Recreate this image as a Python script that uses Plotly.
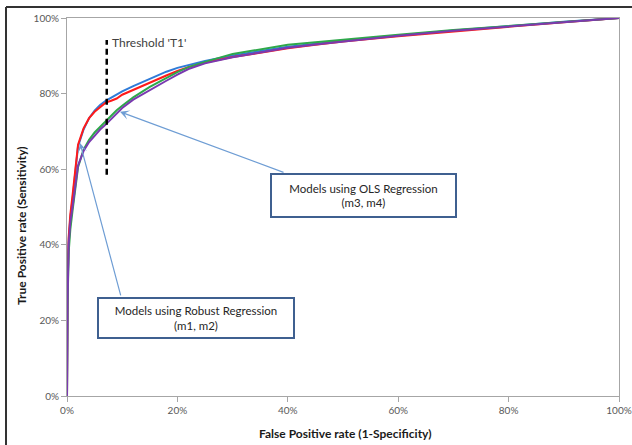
import plotly.graph_objects as go

# False positive rate (1 - specificity) grid
fpr = [0, 0.001, 0.003, 0.006, 0.01, 0.015, 0.02, 0.03, 0.04, 0.05, 0.06, 0.07,
       0.08, 0.09, 0.10, 0.12, 0.15, 0.18, 0.20, 0.22, 0.25, 0.30, 0.35, 0.40,
       0.45, 0.50, 0.60, 0.70, 0.80, 0.90, 1.0]

# True positive rates (sensitivity) for each model
tpr_m1 = [0, 0.28, 0.42, 0.48, 0.53, 0.60, 0.665, 0.708, 0.735, 0.752, 0.765, 0.776,
          0.781, 0.787, 0.797, 0.810, 0.830, 0.848, 0.860, 0.870, 0.882, 0.897, 0.908,
          0.920, 0.929, 0.938, 0.952, 0.965, 0.977, 0.989, 1.0]
tpr_m2 = [0, 0.27, 0.41, 0.47, 0.52, 0.59, 0.660, 0.705, 0.735, 0.755, 0.770, 0.781,
          0.790, 0.797, 0.806, 0.820, 0.840, 0.858, 0.868, 0.876, 0.886, 0.901, 0.912,
          0.924, 0.932, 0.940, 0.954, 0.967, 0.979, 0.990, 1.0]
tpr_m3 = [0, 0.24, 0.38, 0.44, 0.49, 0.55, 0.605, 0.652, 0.678, 0.697, 0.712, 0.726,
          0.742, 0.756, 0.768, 0.790, 0.818, 0.842, 0.857, 0.870, 0.884, 0.905, 0.917,
          0.929, 0.936, 0.943, 0.956, 0.968, 0.979, 0.990, 1.0]
tpr_m4 = [0, 0.25, 0.40, 0.46, 0.50, 0.555, 0.610, 0.648, 0.672, 0.688, 0.705, 0.718,
          0.733, 0.748, 0.762, 0.784, 0.810, 0.834, 0.850, 0.865, 0.880, 0.896, 0.909,
          0.921, 0.930, 0.938, 0.953, 0.966, 0.978, 0.989, 1.0]

series_names = ["m2", "m1", "m3", "m4"]
series_vals = [tpr_m2, tpr_m1, tpr_m3, tpr_m4]
series_colors = ["#2F7BD8", "#FF1A1A", "#2EA84A", "#7A3AB0"]

tick_vals = [0, 0.2, 0.4, 0.6, 0.8, 1.0]
tick_text = ["0%", "20%", "40%", "60%", "80%", "100%"]

threshold_x = 0.072
threshold_y = [0.585, 0.942]

FONT = "Lato"

fig = go.Figure()
for name, vals, col in zip(series_names, series_vals, series_colors):
    fig.add_trace(go.Scatter(x=fpr, y=vals, mode="lines", name=name,
                             line=dict(color=col, width=2), showlegend=False))

# Threshold dashed line
fig.add_trace(go.Scatter(x=[threshold_x, threshold_x], y=threshold_y, mode="lines",
                         line=dict(color="black", width=2.5, dash="6px,4px"),
                         showlegend=False))

axis_common = dict(range=[0, 1], tickvals=tick_vals, ticktext=tick_text,
                   showgrid=False, zeroline=False, showline=True, mirror=True,
                   linecolor="#A6A6A6", linewidth=1, ticks="outside", ticklen=5,
                   tickcolor="#A6A6A6", automargin=False, ticklabeloverflow="allow",
                   tickfont=dict(family=FONT, size=10, color="#595959"))

fig.update_layout(
    width=632, height=445,
    margin=dict(l=67, r=13, t=18, b=49, autoexpand=False),
    paper_bgcolor="white", plot_bgcolor="white",
    xaxis=dict(**axis_common),
    yaxis=dict(**axis_common),
    font=dict(family=FONT),
)

arrow_col = "#6E9DD4"
box_col = "#3F6090"

annotations = [
    # axis titles
    dict(text="<b>False Positive rate (1-Specificity)</b>", xref="paper", yref="paper",
         x=0.505, y=-0.1005, xanchor="center", yanchor="middle", showarrow=False,
         font=dict(family=FONT, size=12, color="#1a1a1a")),
    dict(text="<b>True Positive rate (Sensitivity)</b>", xref="paper", yref="paper",
         x=-0.0815, y=0.45, xanchor="center", yanchor="middle", textangle=-90,
         showarrow=False, font=dict(family=FONT, size=12, color="#1a1a1a")),
    # threshold label
    dict(text="Threshold 'T1'", x=0.078, y=0.935, xanchor="left", yanchor="middle",
         showarrow=False, font=dict(family=FONT, size=12, color="#404040")),
    # arrows
    dict(x=0.0236, y=0.669, ax=0.098, ay=0.262, axref="x", ayref="y", text="",
         showarrow=True, arrowhead=3, arrowsize=1.3, arrowwidth=1.2, arrowcolor=arrow_col),
    dict(x=0.096, y=0.752, ax=0.395, ay=0.590, axref="x", ayref="y", text="",
         showarrow=True, arrowhead=3, arrowsize=1.3, arrowwidth=1.2, arrowcolor=arrow_col),
    # boxes
    dict(text="Models using Robust Regression<br>(m1, m2)", x=0.2337, y=0.2063,
         xanchor="center", yanchor="middle",
         showarrow=False, bordercolor=box_col, borderwidth=2, borderpad=0,
         bgcolor="white", width=194, height=38,
         font=dict(family=FONT, size=11.5, color="#262626")),
    dict(text="Models using OLS Regression<br>(m3, m4)", x=0.537, y=0.5304,
         xanchor="center", yanchor="middle",
         showarrow=False, bordercolor=box_col, borderwidth=2, borderpad=0,
         bgcolor="white", width=183, height=41,
         font=dict(family=FONT, size=11.5, color="#262626")),
]
fig.update_layout(annotations=annotations)

# Outer frame (top and left edges visible)
fig.add_shape(type="line", xref="paper", yref="paper", x0=-0.1105, x1=1.05,
              y0=1.029, y1=1.029, line=dict(color="#333333", width=2))
fig.add_shape(type="line", xref="paper", yref="paper", x0=-0.1105, x1=-0.1105,
              y0=1.029, y1=-0.14, line=dict(color="#333333", width=2))

fig.write_html("out.html", config={"displayModeBar": False},
               post_script="document.body.style.margin='0';document.body.style.overflow='hidden';")
